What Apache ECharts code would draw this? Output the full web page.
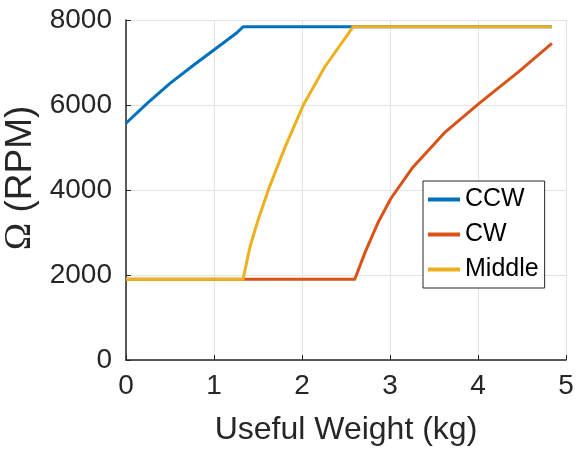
<!DOCTYPE html>
<html>
<head>
<meta charset="utf-8">
<script src="https://cdn.jsdelivr.net/npm/echarts@6/dist/echarts.min.js"></script>
<style>
  html, body { margin: 0; padding: 0; background: #fff; }
  #chart { width: 582px; height: 456px; }
</style>
</head>
<body>
<div id="chart"></div>
<script>
// Rotor speed vs. useful weight for the three motor groups
var seriesNames = ['CCW', 'CW', 'Middle'];

var ccwX = [0, 0.24, 0.5, 0.77, 1.01, 1.26, 1.33, 4.84];
var ccwY = [5570, 6040, 6510, 6940, 7310, 7700, 7840, 7840];

var cwX = [0, 2.6, 2.72, 2.87, 3.01, 3.25, 3.63, 4.02, 4.46, 4.84];
var cwY = [1900, 1900, 2550, 3260, 3800, 4510, 5370, 6050, 6780, 7450];

var midX = [0, 1.33, 1.41, 1.5, 1.62, 1.81, 2.02, 2.26, 2.58, 4.84];
var midY = [1900, 1900, 2670, 3290, 4020, 5020, 6020, 6900, 7840, 7840];

var xTicks = [0, 1, 2, 3, 4, 5];
var yTicks = [0, 2000, 4000, 6000, 8000];

var colors = ['#0072BD', '#D95319', '#EDB120'];

var font = 'Liberation Sans, Arial, Helvetica, sans-serif';
var axisDark = '#262626';

function pairs(xs, ys) {
  return xs.map(function (x, i) { return [x, ys[i]]; });
}

function lineSeries(name, data, color) {
  return {
    name: name,
    type: 'line',
    data: data,
    showSymbol: false,
    smooth: false,
    animation: false,
    lineStyle: { color: color, width: 3, join: 'round', cap: 'butt' },
    itemStyle: { color: color }
  };
}

var chart = echarts.init(document.getElementById('chart'), null, { renderer: 'canvas' });

chart.setOption({
  backgroundColor: '#fff',
  animation: false,
  grid: { left: 126, right: 16, top: 20, bottom: 96, containLabel: false, outerBoundsMode: 'none' },
  xAxis: {
    type: 'value',
    min: xTicks[0],
    max: xTicks[xTicks.length - 1],
    interval: 1,
    name: 'Useful Weight (kg)',
    nameLocation: 'middle',
    nameGap: 54,
    nameTextStyle: { fontFamily: font, fontSize: 32, color: axisDark },
    axisLine: { show: true, lineStyle: { color: axisDark, width: 1.5 } },
    axisTick: { show: true, inside: true, length: 5, lineStyle: { color: axisDark } },
    axisLabel: { fontFamily: font, fontSize: 28, color: axisDark, margin: 12,
      formatter: function (v) { return String(v); } },
    splitLine: { show: true, lineStyle: { color: '#e3e3e3', width: 1 } }
  },
  yAxis: {
    type: 'value',
    min: yTicks[0],
    max: yTicks[yTicks.length - 1],
    interval: 2000,
    name: '{o|\u03A9} (RPM)',
    nameLocation: 'middle',
    nameGap: 81,
    nameTextStyle: {
      fontFamily: font, fontSize: 37, color: axisDark,
      padding: [0, 0, 0, 24],
      rich: { o: { fontFamily: 'Liberation Serif, Times New Roman, serif', fontSize: 37, color: axisDark } }
    },
    axisLine: { show: true, lineStyle: { color: axisDark, width: 1.5 } },
    axisTick: { show: true, inside: true, length: 5, lineStyle: { color: axisDark } },
    axisLabel: { fontFamily: font, fontSize: 28, color: axisDark, margin: 14,
      formatter: function (v) { return String(v); } },
    splitLine: { show: true, lineStyle: { color: '#e3e3e3', width: 1 } }
  },
  legend: {
    data: seriesNames,
    orient: 'vertical',
    left: 423,
    top: 181,
    padding: [6, 6, 6, 5],
    itemGap: 10,
    itemWidth: 32,
    itemHeight: 4,
    icon: 'rect',
    backgroundColor: '#fff',
    borderColor: axisDark,
    borderWidth: 1,
    borderRadius: 0,
    textStyle: { fontFamily: font, fontSize: 25, color: '#000' }
  },
  series: [
    lineSeries(seriesNames[0], pairs(ccwX, ccwY), colors[0]),
    lineSeries(seriesNames[1], pairs(cwX, cwY), colors[1]),
    lineSeries(seriesNames[2], pairs(midX, midY), colors[2])
  ]
});
</script>
</body>
</html>
